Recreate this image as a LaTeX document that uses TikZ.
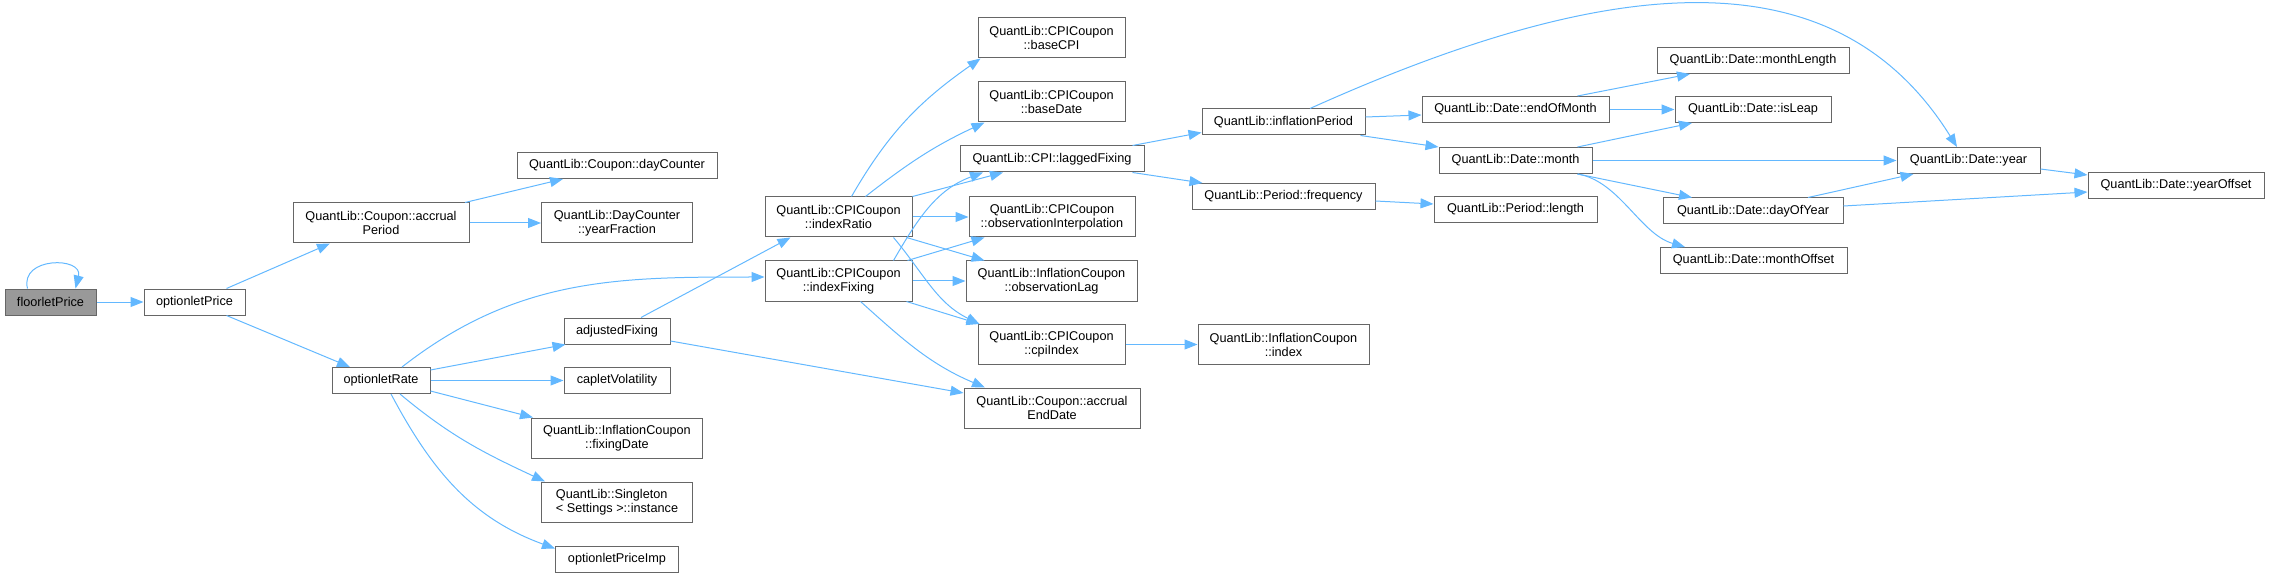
\documentclass[tikz,border=0pt]{standalone}
\usepackage{fontspec}
\setmainfont{Liberation Sans}
\usepackage{xcolor}
\usetikzlibrary{arrows.meta}
\definecolor{edgeblue}{HTML}{63B8FF}
\definecolor{boxgray}{HTML}{666666}
\definecolor{rootgray}{HTML}{999999}

\begin{document}
\begin{tikzpicture}[
    x=1pt, y=-1pt,
    box/.style={draw=boxgray, line width=1pt, fill=white, inner sep=0pt, minimum height=26pt, align=center, font=\fontsize{12.7}{14}\selectfont},
    box2/.style={box, minimum height=40pt},
    rootbox/.style={box, fill=rootgray},
    call/.style={-{Triangle[length=13pt,width=10pt]}, draw=edgeblue, line width=1pt}
]
    \useasboundingbox (0,0) rectangle (2269,577);

    % caller and first level
    \node[rootbox, minimum width=91pt] (floorlet) at (50.5,302) {floorletPrice};
    \node[box, minimum width=101pt] (optPrice) at (194.5,302) {optionletPrice};
    \node[box2, minimum width=176pt] (accrPeriod) at (381,223) {QuantLib::Coupon::accrual\\Period};
    \node[box, minimum width=98pt] (optRate) at (381,380.5) {optionletRate};

    % column 3
    \node[box, minimum width=200pt] (dayCounter) at (617,165.5) {QuantLib::Coupon::dayCounter};
    \node[box2, minimum width=151pt] (yearFrac) at (617,223) {QuantLib::DayCounter\\::yearFraction};
    \node[box, minimum width=106pt] (adjFixing) at (617,331) {adjustedFixing};
    \node[box, minimum width=106pt] (capletVol) at (617,380.5) {capletVolatility};
    \node[box2, minimum width=171pt] (fixingDate) at (617,438) {QuantLib::InflationCoupon\\::fixingDate};
    \node[box2, minimum width=151pt, align=left] (singleton) at (617,502) {QuantLib::Singleton\\< Settings >::instance};
    \node[box, minimum width=123pt] (optPriceImp) at (617,559) {optionletPriceImp};

    % CPI coupon
    \node[box2, minimum width=147pt] (indexRatio) at (838.5,217) {QuantLib::CPICoupon\\::indexRatio};
    \node[box2, minimum width=147pt] (indexFixing) at (838.5,281) {QuantLib::CPICoupon\\::indexFixing};
    \node[box2, minimum width=147pt] (baseCPI) at (1051.5,38) {QuantLib::CPICoupon\\::baseCPI};
    \node[box2, minimum width=147pt] (baseDate) at (1051.5,102) {QuantLib::CPICoupon\\::baseDate};
    \node[box, minimum width=184pt] (laggedFixing) at (1052,159) {QuantLib::CPI::laggedFixing};
    \node[box2, minimum width=166pt] (obsInterp) at (1052,217) {QuantLib::CPICoupon\\::observationInterpolation};
    \node[box2, minimum width=171pt] (obsLag) at (1051.5,281) {QuantLib::InflationCoupon\\::observationLag};
    \node[box2, minimum width=147pt] (cpiIndex) at (1051.5,344.5) {QuantLib::CPICoupon\\::cpiIndex};
    \node[box2, minimum width=176pt] (accrEndDate) at (1052,408) {QuantLib::Coupon::accrual\\EndDate};

    % periods and dates
    \node[box, minimum width=163pt] (inflPeriod) at (1283.5,122) {QuantLib::inflationPeriod};
    \node[box, minimum width=183pt] (frequency) at (1283.5,196.5) {QuantLib::Period::frequency};
    \node[box2, minimum width=171pt] (icIndex) at (1283.5,344.5) {QuantLib::InflationCoupon\\::index};
    \node[box, minimum width=187pt] (endOfMonth) at (1515.5,109.5) {QuantLib::Date::endOfMonth};
    \node[box, minimum width=153pt] (month) at (1515.5,160.5) {QuantLib::Date::month};
    \node[box, minimum width=163pt] (perLength) at (1515.5,209.5) {QuantLib::Period::length};
    \node[box, minimum width=192pt] (monthLength) at (1753,60.5) {QuantLib::Date::monthLength};
    \node[box, minimum width=156pt] (isLeap) at (1753,109.5) {QuantLib::Date::isLeap};
    \node[box, minimum width=180pt] (dayOfYear) at (1753,211) {QuantLib::Date::dayOfYear};
    \node[box, minimum width=187pt] (monthOffset) at (1753.5,260.5) {QuantLib::Date::monthOffset};
    \node[box, minimum width=143pt] (year) at (1968.5,160.5) {QuantLib::Date::year};
    \node[box, minimum width=176pt] (yearOffset) at (2176,185.5) {QuantLib::Date::yearOffset};

    % calls from the left part
    \draw[call] ([xshift=-23pt]floorlet.north) .. controls +(-8,-32) and +(8,-32) .. ([xshift=25pt]floorlet.north);
    \draw[call] (floorlet) -- (optPrice);
    \draw[call] ([xshift=32pt]optPrice.north) -- ([xshift=-51pt]accrPeriod.south);
    \draw[call] ([xshift=32pt]optPrice.south) -- ([xshift=-31pt]optRate.north);
    \draw[call] ([xshift=84pt]accrPeriod.north) -- ([xshift=-54pt]dayCounter.south);
    \draw[call] (accrPeriod) -- (yearFrac);
    \draw[call] ([yshift=-3pt]optRate.north east) -- ([xshift=2pt]adjFixing.south west);
    \draw[call] (optRate) -- (capletVol);
    \draw[call] ([yshift=3pt]optRate.south east) -- ([xshift=2pt]fixingDate.north west);
    \draw[call] ([xshift=19pt]optRate.south) to[out=-40,in=155] ([xshift=4pt]singleton.north west);
    \draw[call] ([xshift=10pt]optRate.south) to[out=-62,in=160] ([yshift=-3pt]optPriceImp.north west);
    \draw[call] ([xshift=21pt]optRate.north) to[out=38,in=180] ([yshift=4pt]indexFixing.west);
    \draw[call] ([xshift=24pt]adjFixing.north) -- ([xshift=-48pt]indexRatio.south);
    \draw[call] ([yshift=-10pt]adjFixing.east) -- ([yshift=15pt]accrEndDate.west);

    % CPI coupon calls
    \draw[call] ([xshift=13pt]indexRatio.north) to[out=60,in=-145] ([xshift=3pt]baseCPI.south west);
    \draw[call] ([xshift=27pt]indexRatio.north) to[out=38,in=-155] ([xshift=7pt]baseDate.south west);
    \draw[call] (indexRatio.north east) -- ([xshift=-49pt]laggedFixing.south);
    \draw[call] (indexRatio) -- (obsInterp);
    \draw[call] ([xshift=-6pt]indexRatio.south east) -- ([xshift=19pt]obsLag.north west);
    \draw[call] ([xshift=55pt]indexRatio.south) to[out=-50,in=154] ([xshift=2pt]cpiIndex.north west);
    \draw[call] ([xshift=55pt]indexFixing.north) to[out=60,in=-160] ([xshift=-69pt]laggedFixing.south);
    \draw[call] ([xshift=-5pt]indexFixing.north east) -- ([xshift=16pt]obsInterp.south west);
    \draw[call] (indexFixing) -- (obsLag);
    \draw[call] ([xshift=-6pt]indexFixing.south east) -- ([xshift=2pt]cpiIndex.north west);
    \draw[call] ([xshift=22pt]indexFixing.south) to[out=-42,in=157] ([xshift=-67pt]accrEndDate.north);
    \draw[call] ([xshift=-12pt]laggedFixing.north east) -- ([yshift=3pt]inflPeriod.south west);
    \draw[call] ([xshift=-12pt]laggedFixing.south east) -- ([xshift=11pt]frequency.north west);
    \draw[call] (cpiIndex) -- (icIndex);

    % date calls
    \draw[call] ([xshift=26.5pt]inflPeriod.north) .. controls +(309,-139) and +(-119,-191) .. ([xshift=-11.5pt]year.north);
    \draw[call] ([yshift=5pt]inflPeriod.east) -- ([yshift=-5.5pt]endOfMonth.west);
    \draw[call] ([xshift=-5pt]inflPeriod.south east) -- (month.north west);
    \draw[call] ([yshift=-4.5pt]frequency.east) -- ([yshift=5.5pt]perLength.west);
    \draw[call] ([xshift=62pt]endOfMonth.north) -- ([xshift=-63pt]monthLength.south);
    \draw[call] (endOfMonth) -- (isLeap);
    \draw[call] ([xshift=62pt]month.north) -- ([xshift=-61pt]isLeap.south);
    \draw[call] (month) -- (year);
    \draw[call] ([xshift=62pt]month.south) -- ([xshift=-61pt]dayOfYear.north);
    \draw[call] ([xshift=62pt]month.south) .. controls +(42,7) and +(-45,-13) .. ([xshift=-68.5pt]monthOffset.north);
    \draw[call] ([xshift=55pt]dayOfYear.north) -- ([xshift=-55pt]year.south);
    \draw[call] ([yshift=5pt]dayOfYear.east) -- ([yshift=-6.5pt]yearOffset.west);
    \draw[call] ([yshift=-8.5pt]year.east) -- ([yshift=10.5pt]yearOffset.west);
\end{tikzpicture}
\end{document}
